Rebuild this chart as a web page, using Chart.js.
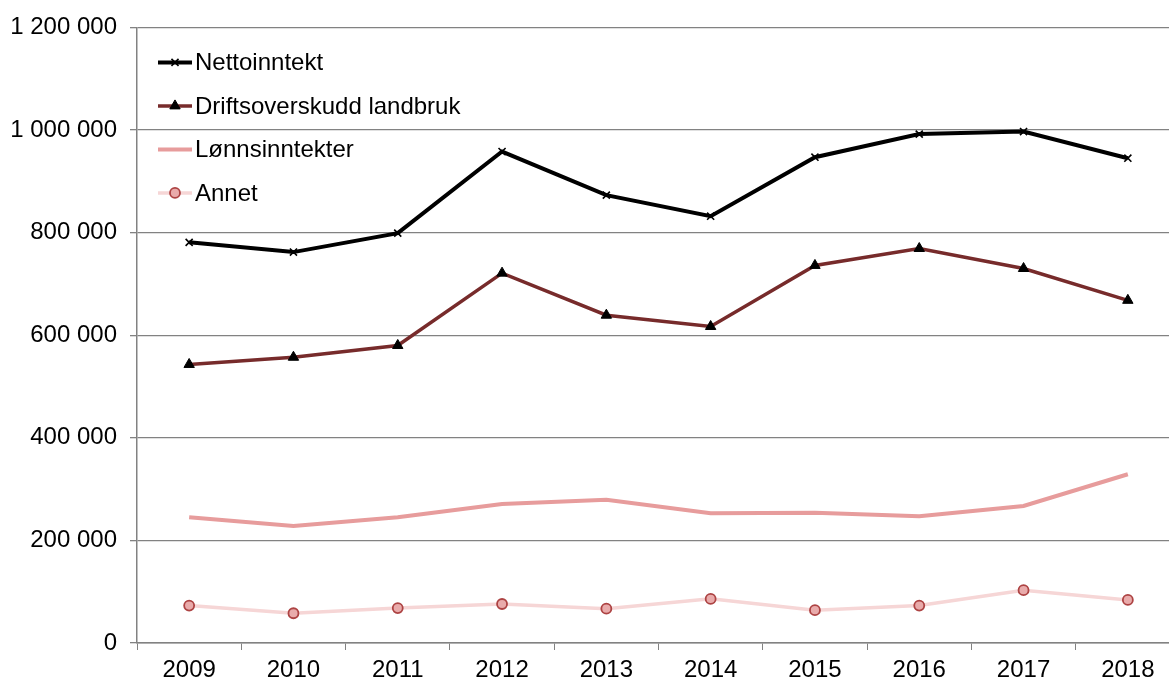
<!DOCTYPE html>
<html>
<head>
<meta charset="utf-8">
<script src="https://cdn.jsdelivr.net/npm/chart.js@4"></script>
<style>
    html, body { margin: 0; padding: 0; background: #fff; overflow: hidden; }
    /* the plot in the reference runs on past the right edge of the picture */
    #wrap { width: 1187px; height: 684px; position: relative; }
</style>
</head>
<body>
<div id="wrap"><canvas id="incomeChart"></canvas></div>
<script>
    // Data
    const years = ['2009', '2010', '2011', '2012', '2013', '2014', '2015', '2016', '2017', '2018'];
    const nettoinntekt = [781000, 762000, 799000, 958000, 873000, 832000, 947000, 992000, 997000, 945000];
    const driftsoverskudd = [543000, 557000, 580000, 721000, 639000, 617000, 736000, 769000, 730000, 668000];
    const lonnsinntekter = [245000, 228000, 245000, 271000, 279000, 253000, 254000, 247000, 267000, 329000];
    const annet = [73000, 58000, 68000, 76000, 67000, 86000, 64000, 73000, 103000, 84000];
    const yTicks = [0, 200000, 400000, 600000, 800000, 1000000, 1200000];

    const FONT = "'Liberation Sans', Arial, Helvetica, sans-serif";
    const GRID = '#828282';

    function formatNumber(v) {
        return String(v).replace(/\B(?=(\d{3})+(?!\d))/g, ' ');
    }

    // Legend drawn inside the plot area, top-left, with line + marker samples
    const insideLegend = {
        id: 'insideLegend',
        afterDraw: function(chart) {
            const ctx = chart.ctx;
            const area = chart.chartArea;
            const x0 = area.left + 21;
            const lineLen = 34;
            let y = area.top + 35;
            ctx.save();
            chart.data.datasets.forEach(function(ds) {
                ctx.strokeStyle = ds.borderColor;
                ctx.lineWidth = ds.borderWidth;
                ctx.beginPath();
                ctx.moveTo(x0, y);
                ctx.lineTo(x0 + lineLen, y);
                ctx.stroke();
                if (ds.pointRadius > 0) {
                    ctx.fillStyle = ds.pointBackgroundColor;
                    ctx.strokeStyle = ds.pointBorderColor;
                    ctx.lineWidth = ds.pointBorderWidth;
                    Chart.helpers.drawPoint(ctx, {
                        pointStyle: ds.pointStyle,
                        radius: ds.pointRadius,
                        rotation: 0,
                        borderWidth: ds.pointBorderWidth
                    }, x0 + lineLen / 2, y);
                }
                ctx.fillStyle = '#000';
                ctx.font = '24px ' + FONT;
                ctx.textBaseline = 'middle';
                ctx.textAlign = 'left';
                ctx.fillText(ds.label, x0 + lineLen + 3, y + 1);
                y += 43.5;
            });
            ctx.restore();
        }
    };

    new Chart(document.getElementById('incomeChart').getContext('2d'), {
        type: 'line',
        data: {
            labels: years,
            datasets: [{
                label: 'Nettoinntekt',
                data: nettoinntekt,
                borderColor: '#000000',
                borderWidth: 4,
                pointStyle: 'crossRot',
                pointRadius: 5,
                pointBorderWidth: 1.6,
                pointBorderColor: '#000000',
                pointBackgroundColor: '#000000'
            }, {
                label: 'Driftsoverskudd landbruk',
                data: driftsoverskudd,
                borderColor: '#772b2b',
                borderWidth: 3.5,
                pointStyle: 'triangle',
                pointRadius: 6,
                pointBorderWidth: 1,
                pointBorderColor: '#000000',
                pointBackgroundColor: '#000000'
            }, {
                label: 'Lønnsinntekter',
                data: lonnsinntekter,
                borderColor: '#e79c9c',
                borderWidth: 4,
                pointRadius: 0,
                pointBorderWidth: 0,
                pointBorderColor: '#e79c9c',
                pointBackgroundColor: '#e79c9c'
            }, {
                label: 'Annet',
                data: annet,
                borderColor: '#f6d6d6',
                borderWidth: 3.5,
                pointStyle: 'circle',
                pointRadius: 5,
                pointBorderWidth: 1.8,
                pointBorderColor: '#ad4343',
                pointBackgroundColor: '#e9abab'
            }]
        },
        options: {
            responsive: true,
            maintainAspectRatio: false,
            animation: false,
            layout: { padding: { top: 27, left: 0, right: 0, bottom: 0 } },
            elements: { line: { tension: 0 } },
            plugins: {
                legend: { display: false },
                tooltip: { enabled: false }
            },
            scales: {
                x: {
                    offset: true,
                    grid: {
                        display: true,
                        offset: true,
                        drawOnChartArea: false,
                        drawTicks: true,
                        tickLength: 7,
                        color: GRID
                    },
                    border: { display: true, color: GRID, width: 1.5 },
                    ticks: {
                        color: '#000',
                        padding: 6,
                        maxRotation: 0,
                        font: { size: 24, family: FONT }
                    },
                    afterFit: function(scale) { scale.height = 41; }
                },
                y: {
                    min: 0,
                    max: 1200000,
                    afterBuildTicks: function(scale) {
                        scale.ticks = yTicks.map(function(v) { return { value: v }; });
                    },
                    grid: {
                        color: GRID,
                        lineWidth: 1.3,
                        tickLength: 7
                    },
                    border: { display: true, color: GRID, width: 1.5 },
                    ticks: {
                        color: '#000',
                        padding: 13,
                        font: { size: 24, family: FONT },
                        callback: function(value) { return formatNumber(value); }
                    },
                    afterFit: function(scale) { scale.width = 137; }
                }
            }
        },
        plugins: [insideLegend]
    });
</script>
</body>
</html>
